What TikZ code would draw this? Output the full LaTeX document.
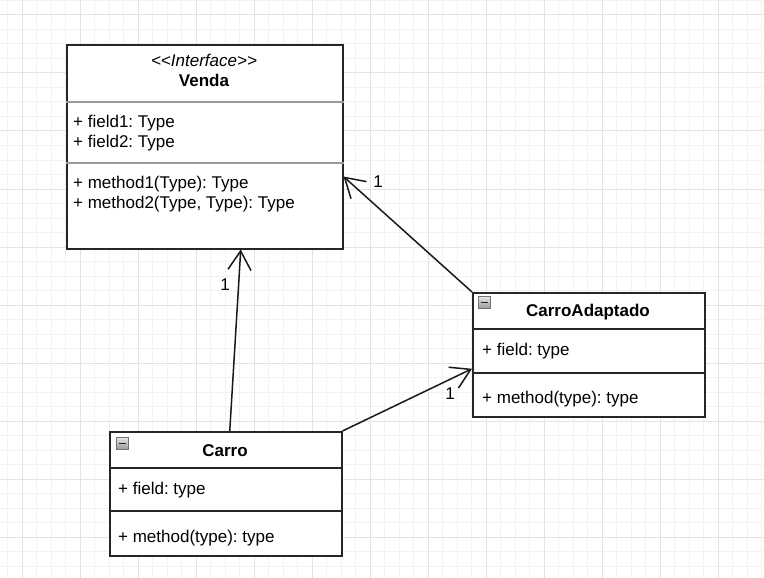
\documentclass[tikz,border=0pt]{standalone}
\usepackage{fontspec}
\setmainfont{Liberation Sans}
\usetikzlibrary{arrows.meta}
\frenchspacing

\tikzset{
  gridminor/.style={draw=black!5, line width=1pt},
  gridmajor/.style={draw=black!11, line width=1pt},
  umlbox/.style={draw=black!85, line width=1.5pt, fill=white, anchor=north west, inner sep=0pt},
  greysep/.style={draw=black!40, line width=1.5pt},
  blacksep/.style={draw=black!85, line width=1.5pt},
  member/.style={anchor=base west, inner sep=0pt, font=\fontsize{17}{20}\selectfont},
  classname/.style={anchor=base, inner sep=0pt, font=\fontsize{17}{20}\selectfont\bfseries},
  stereo/.style={anchor=base, inner sep=0pt, font=\fontsize{17}{20}\selectfont\itshape},
  mult/.style={inner sep=0pt, font=\fontsize{17}{20}\selectfont},
  toggle/.style={draw=black!55, line width=0.8pt, top color=black!10, bottom color=black!40,
    minimum size=12pt, inner sep=0pt, anchor=north west},
  assoc/.style={draw=black!90, line width=1.5pt, -{Straight Barb[length=19pt,width=23pt]}}
}

\begin{document}
\begin{tikzpicture}[x=1pt, y=-1pt]
        \fill[white] (0,0) rectangle (764,578);
        \useasboundingbox (0,0) rectangle (764,578);
        % background grid
        \foreach \i in {0,...,52} {
                \draw[gridminor] ({7.5+14.5*\i},0) -- ({7.5+14.5*\i},578);
            }
        \foreach \i in {0,...,39} {
                \draw[gridminor] (0,{0.5+14.5*\i}) -- (764,{0.5+14.5*\i});
            }
        \foreach \i in {0,...,12} {
                \draw[gridmajor] ({22+58*\i},0) -- ({22+58*\i},578);
            }
        \foreach \i in {0,...,9} {
                \draw[gridmajor] (0,{15+58*\i}) -- (764,{15+58*\i});
            }

        % interface Venda
        \node[umlbox, minimum width=276pt, minimum height=203.5pt] (venda) at (66,44.5) {};
        \draw[greysep] ([yshift=-57.5pt]venda.north west) -- ([yshift=-57.5pt]venda.north east);
        \draw[greysep] ([yshift=-118.5pt]venda.north west) -- ([yshift=-118.5pt]venda.north east);
        \node[stereo] (vendastereo) at (204,66.5) {<\kern0pt<Interface>\kern0pt>};
        \node[classname] (vendaname) at (204,86.7) {Venda};
        \node[member] (vendaf1) at (73,127.3) {+ field1: Type};
        \node[member] (vendaf2) at (73,147.3) {+ field2: Type};
        \node[member] (vendam1) at (73,188.3) {+ method1(Type): Type};
        \node[member] (vendam2) at (73,208.3) {+ method2(Type, Type): Type};

        % class CarroAdaptado
        \node[umlbox, minimum width=232pt, minimum height=124pt] (adaptado) at (472,292) {};
        \draw[blacksep] ([yshift=-37pt]adaptado.north west) -- ([yshift=-37pt]adaptado.north east);
        \draw[blacksep] ([yshift=-81pt]adaptado.north west) -- ([yshift=-81pt]adaptado.north east);
        \node[toggle] (adaptadoicon) at (478,296) {};
        \draw[black!85, line width=1.5pt] ([xshift=2.5pt]adaptadoicon.west) -- ([xshift=-2.5pt]adaptadoicon.east);
        \node[classname] (adaptadoname) at (588,316.7) {CarroAdaptado};
        \node[member] (adaptadof) at (482,355) {+ field: type};
        \node[member] (adaptadom) at (482,403.3) {+ method(type): type};

        % class Carro
        \node[umlbox, minimum width=232pt, minimum height=124pt] (carro) at (109,431) {};
        \draw[blacksep] ([yshift=-37pt]carro.north west) -- ([yshift=-37pt]carro.north east);
        \draw[blacksep] ([yshift=-80pt]carro.north west) -- ([yshift=-80pt]carro.north east);
        \node[toggle] (carroicon) at (116,437) {};
        \draw[black!85, line width=1.5pt] ([xshift=2.5pt]carroicon.west) -- ([xshift=-2.5pt]carroicon.east);
        \node[classname] (carroname) at (225,456) {Carro};
        \node[member] (carrof) at (118,494) {+ field: type};
        \node[member] (carrom) at (118,542) {+ method(type): type};

        % associations
        \draw[assoc] (adaptado.north west) -- ([yshift=-29.5pt]venda.east);
        \draw[assoc] ([xshift=4pt]carro.north) -- ([xshift=36pt]venda.south);
        \draw[assoc] (carro.north east) -- ([yshift=-14pt]adaptado.west);
        \node[mult] (mult1) at (378,182) {1};
        \node[mult] (mult2) at (225,284.5) {1};
        \node[mult] (mult3) at (450,393.5) {1};
    \end{tikzpicture}
\end{document}
